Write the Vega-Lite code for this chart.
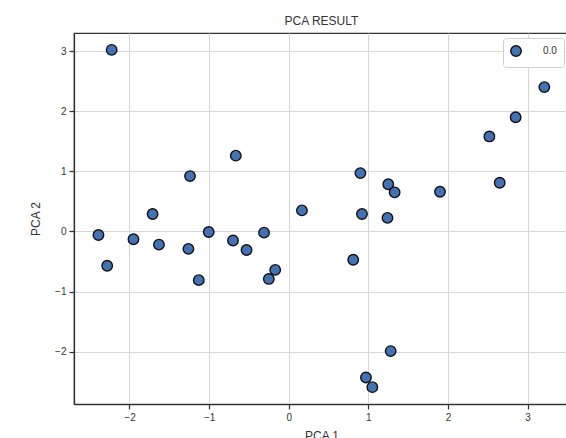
{
  "$schema": "https://vega.github.io/schema/vega-lite/v6.json",
  "autosize": {"type": "none"},
  "width": 495,
  "height": 371,
  "padding": {"left": 74, "top": 33, "right": 0, "bottom": 34},
  "background": "white",
  "title": {
    "text": "PCA RESULT",
    "font": "Liberation Sans",
    "fontSize": 12,
    "fontWeight": "normal",
    "color": "#333333",
    "anchor": "middle",
    "offset": 5
  },
  "data": {
    "values": [
      {"pc1": -2.224, "pc2": 3.02, "cluster": "0.0"},
      {"pc1": 3.21, "pc2": 2.40, "cluster": "0.0"},
      {"pc1": 2.85, "pc2": 1.90, "cluster": "0.0"},
      {"pc1": 2.52, "pc2": 1.58, "cluster": "0.0"},
      {"pc1": -2.39, "pc2": -0.06, "cluster": "0.0"},
      {"pc1": -2.28, "pc2": -0.57, "cluster": "0.0"},
      {"pc1": -1.95, "pc2": -0.13, "cluster": "0.0"},
      {"pc1": -1.71, "pc2": 0.29, "cluster": "0.0"},
      {"pc1": -1.63, "pc2": -0.22, "cluster": "0.0"},
      {"pc1": -1.24, "pc2": 0.92, "cluster": "0.0"},
      {"pc1": -1.26, "pc2": -0.29, "cluster": "0.0"},
      {"pc1": -1.13, "pc2": -0.81, "cluster": "0.0"},
      {"pc1": -1.005, "pc2": -0.01, "cluster": "0.0"},
      {"pc1": -0.665, "pc2": 1.26, "cluster": "0.0"},
      {"pc1": -0.70, "pc2": -0.15, "cluster": "0.0"},
      {"pc1": -0.53, "pc2": -0.31, "cluster": "0.0"},
      {"pc1": -0.31, "pc2": -0.02, "cluster": "0.0"},
      {"pc1": -0.17, "pc2": -0.64, "cluster": "0.0"},
      {"pc1": -0.25, "pc2": -0.79, "cluster": "0.0"},
      {"pc1": 0.166, "pc2": 0.35, "cluster": "0.0"},
      {"pc1": 0.90, "pc2": 0.97, "cluster": "0.0"},
      {"pc1": 1.25, "pc2": 0.785, "cluster": "0.0"},
      {"pc1": 1.33, "pc2": 0.65, "cluster": "0.0"},
      {"pc1": 1.90, "pc2": 0.66, "cluster": "0.0"},
      {"pc1": 2.65, "pc2": 0.81, "cluster": "0.0"},
      {"pc1": 0.92, "pc2": 0.29, "cluster": "0.0"},
      {"pc1": 1.24, "pc2": 0.225, "cluster": "0.0"},
      {"pc1": 0.81, "pc2": -0.47, "cluster": "0.0"},
      {"pc1": 1.28, "pc2": -1.99, "cluster": "0.0"},
      {"pc1": 0.97, "pc2": -2.43, "cluster": "0.0"},
      {"pc1": 1.05, "pc2": -2.59, "cluster": "0.0"}
    ]
  },
  "mark": {
    "type": "point",
    "shape": "circle",
    "filled": true,
    "opacity": 1,
    "size": 110,
    "stroke": "#111111",
    "strokeWidth": 1.4
  },
  "encoding": {
    "x": {
      "field": "pc1",
      "type": "quantitative",
      "scale": {"domain": [-2.697, 3.52], "nice": false, "zero": false},
      "axis": {"title": "PCA 1", "values": [-2, -1, 0, 1, 2, 3], "titlePadding": 8}
    },
    "y": {
      "field": "pc2",
      "type": "quantitative",
      "scale": {"domain": [-2.87, 3.30], "nice": false, "zero": false},
      "axis": {"title": "PCA 2", "values": [-2, -1, 0, 1, 2, 3], "titlePadding": 12}
    },
    "color": {
      "field": "cluster",
      "type": "nominal",
      "scale": {"range": ["#4471b4"]},
      "legend": {
        "title": null,
        "orient": "top-right",
        "offset": 5,
        "padding": 7,
        "strokeColor": "#d0d0d0",
        "fillColor": "white",
        "cornerRadius": 3,
        "symbolType": "circle",
        "symbolSize": 110,
        "symbolStrokeColor": "#111111",
        "symbolStrokeWidth": 1.4,
        "symbolOpacity": 1,
        "labelFont": "Liberation Sans",
        "labelFontSize": 10,
        "labelColor": "#333333",
        "labelOffset": 21,
        "columnPadding": 0
      }
    }
  },
  "config": {
    "view": {"stroke": "#333333", "strokeWidth": 1.25},
    "axis": {
      "domainColor": "#333333",
      "domainWidth": 1.25,
      "tickColor": "#333333",
      "tickSize": 5,
      "tickWidth": 1.25,
      "gridColor": "#d6d6d6",
      "gridWidth": 1,
      "labelFont": "Liberation Sans",
      "labelFontSize": 10,
      "labelColor": "#333333",
      "labelPadding": 3,
      "titleFont": "Liberation Sans",
      "titleFontSize": 12,
      "titleFontWeight": "normal",
      "titleColor": "#333333"
    }
  }
}
